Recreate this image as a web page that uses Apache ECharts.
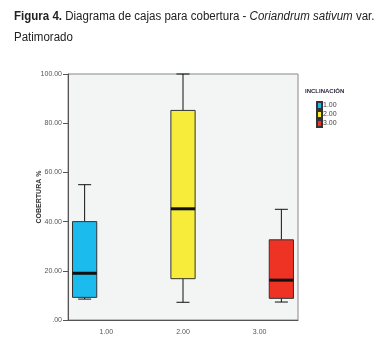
<!DOCTYPE html>
<html><head><meta charset="utf-8">
<script src="https://cdn.jsdelivr.net/npm/echarts@6/dist/echarts.min.js"></script>
<style>html,body{margin:0;padding:0;background:#fff}#c{width:389px;height:359px}</style>
</head><body><div id="c"></div>
<script>
const categories = ['1.00', '2.00', '3.00'];
const seriesNames = ['1.00', '2.00', '3.00'];
const mins = [8.5, 7.2, 7.3];
const q1s = [9.2, 16.8, 8.8];
const medians = [19, 45.2, 16.2];
const q3s = [40, 85.2, 32.6];
const maxs = [55, 100, 45];
const yTicks = [0, 20, 40, 60, 80, 100];
const colors = ['#1cbbee', '#f7ec3a', '#ee3224'];

const FONT = "'Liberation Sans', Arial, sans-serif";

function makeRender(i) {
  return function (params, api) {
    const cat = api.value(0);
    const band = api.size([1, 0])[0];
    const cx = api.coord([cat, 0])[0] + (i - 1) * band * 0.283;
    const Y = v => api.coord([cat, v])[1];
    const hw = band * 0.158, cw = band * 0.085;
    const ymin = Y(api.value(1)), yq1 = Y(api.value(2)), ymed = Y(api.value(3)),
          yq3 = Y(api.value(4)), ymax = Y(api.value(5));
    const line = (x1, y1, x2, y2, w) => ({
      type: 'line', shape: { x1, y1, x2, y2 },
      style: { stroke: '#111', lineWidth: w || 1 }
    });
    return {
      type: 'group',
      children: [
        line(cx, ymax, cx, yq3), line(cx - cw, ymax, cx + cw, ymax),
        line(cx, yq1, cx, ymin), line(cx - cw, ymin, cx + cw, ymin),
        { type: 'rect', shape: { x: cx - hw, y: yq3, width: 2 * hw, height: yq1 - yq3 },
          style: { fill: colors[i], stroke: '#333', lineWidth: 1 } },
        line(cx - hw, ymed, cx + hw, ymed, 3)
      ]
    };
  };
}

const series = seriesNames.map((n, i) => ({
  name: n,
  type: 'custom',
  renderItem: makeRender(i),
  itemStyle: { color: colors[i], borderColor: '#333', borderWidth: 1 },
  encode: { x: 0, y: [1, 2, 3, 4, 5] },
  data: [[i, mins[i], q1s[i], medians[i], q3s[i], maxs[i]]]
}));

const chart = echarts.init(document.getElementById('c'), null, { renderer: 'canvas' });
chart.setOption({
  animation: false,
  graphic: [{
    type: 'text', x: 14, y: 6, scaleX: 0.96,
    style: {
      text: '{b|Figura 4.} Diagrama de cajas para cobertura - {i|Coriandrum sativum} var.\nPatimorado',
      font: "12px " + FONT, fill: '#222', lineHeight: 21,
      rich: {
        b: { fontFamily: FONT, fontSize: 12, fontWeight: 'bold', fill: '#222', lineHeight: 21 },
        i: { fontFamily: FONT, fontSize: 12, fontStyle: 'italic', fill: '#222', lineHeight: 21 }
      }
    }
  }],
  title: [{
    left: 305, top: 88, padding: 0,
    text: 'INCLINACIÓN',
    textStyle: { fontFamily: FONT, fontSize: 6, fontWeight: 'bold', color: '#2a2a40' }
  }],
  legend: {
    orient: 'vertical', left: 316, top: 101, padding: 0,
    itemWidth: 5, itemHeight: 7, itemGap: 0,
    icon: 'rect',
    data: seriesNames,
    textStyle: { fontFamily: FONT, fontSize: 7, lineHeight: 8, color: '#444', padding: [0, 0, 0, -4] }
  },
  grid: {
    left: 68, top: 74, right: 91, bottom: 39,
    show: true, backgroundColor: '#f3f4f4', borderColor: '#888', borderWidth: 1
  },
  xAxis: {
    type: 'category', data: categories,
    axisLine: { lineStyle: { color: '#555' } },
    axisTick: { alignWithLabel: true, length: 4, lineStyle: { color: '#555' } },
    axisLabel: { fontFamily: FONT, fontSize: 7, color: '#555', margin: 9 },
    splitLine: { show: false }
  },
  yAxis: {
    type: 'value', min: 0, max: 100, interval: 20,
    name: 'COBERTURA %', nameLocation: 'middle', nameGap: 25, nameMoveOverlap: false,
    nameTextStyle: { fontFamily: FONT, fontSize: 7, fontWeight: 'bold', color: '#333' },
    axisLine: { show: true, lineStyle: { color: '#555' } },
    axisTick: { show: true, length: 5, lineStyle: { color: '#555' } },
    axisLabel: {
      fontFamily: FONT, fontSize: 7, color: '#555', margin: 6,
      formatter: v => yTicks.includes(v) ? (v === 0 ? '.00' : v.toFixed(2)) : ''
    },
    splitLine: { show: false }
  },
  series: series
});
</script>
</body></html>
